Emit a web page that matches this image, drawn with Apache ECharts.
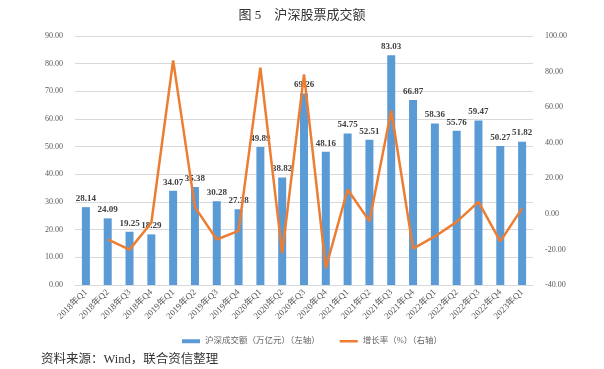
<!DOCTYPE html>
<html>
<head>
<meta charset="utf-8">
<script src="https://cdn.jsdelivr.net/npm/echarts@6/dist/echarts.min.js"></script>
<style>
  html, body { margin: 0; padding: 0; background: #fff; }
  #chart { width: 604px; height: 369px; }
</style>
</head>
<body>
<div id="chart"></div>
<script>
// 季度
const quarters = [
  '2018年Q1', '2018年Q2', '2018年Q3', '2018年Q4',
  '2019年Q1', '2019年Q2', '2019年Q3', '2019年Q4',
  '2020年Q1', '2020年Q2', '2020年Q3', '2020年Q4',
  '2021年Q1', '2021年Q2', '2021年Q3', '2021年Q4',
  '2022年Q1', '2022年Q2', '2022年Q3', '2022年Q4',
  '2023年Q1'
];
// 沪深成交额（万亿元）
const turnover = [
  28.14, 24.09, 19.25, 18.29, 34.07, 35.38, 30.28, 27.38,
  49.89, 38.82, 69.26, 48.16, 54.75, 52.51, 83.03, 66.87,
  58.36, 55.76, 59.47, 50.27, 51.82
];
// 增长率（%）
const growth = [
  null, -14.4, -20.1, -5.0, 86.3, 3.8, -14.4, -9.6,
  82.2, -22.2, 78.4, -30.5, 13.7, -4.1, 58.1, -19.5,
  -12.7, -4.5, 6.7, -15.5, 3.1
];

const serif = '"Liberation Serif", "Noto Sans CJK SC", serif';
const chart = echarts.init(document.getElementById('chart'));

const option = {
  animation: false,
  backgroundColor: '#fff',
  title: {
    text: '图 5　沪深股票成交额',
    left: 'center',
    top: 4,
    textStyle: { fontFamily: serif, fontSize: 13, fontWeight: 'normal', color: '#333' }
  },
  graphic: [{
    type: 'text',
    left: 41,
    top: 353,
    style: { text: '资料来源：Wind，联合资信整理', font: '12.5px ' + serif, fill: '#333' }
  }],
  legend: {
    top: 332,
    left: 177,
    itemGap: 20,
    itemWidth: 18,
    textStyle: { fontFamily: serif, fontSize: 8.5, color: '#666' },
    data: [
      { name: '沪深成交额（万亿元）（左轴）', icon: 'path://M0,0 L18,0 L18,4 L0,4 Z' },
      { name: '增长率（%）（右轴）', icon: 'path://M0,0 L18,0 L18,2.5 L0,2.5 Z' }
    ]
  },
  grid: { left: 75, right: 71, top: 36, bottom: 84 },
  xAxis: {
    type: 'category',
    data: quarters,
    axisTick: { show: false },
    axisLine: { lineStyle: { color: '#d9d9d9' } },
    axisLabel: { rotate: 45, fontFamily: serif, fontSize: 9, color: '#595959', interval: 0, margin: 6 }
  },
  yAxis: [
    {
      type: 'value', min: 0, max: 90, interval: 10,
      axisLabel: { formatter: v => v.toFixed(2), fontFamily: serif, fontSize: 8, color: '#595959', margin: 12 },
      splitLine: { lineStyle: { color: '#d9d9d9' } },
      axisLine: { show: false }, axisTick: { show: false }
    },
    {
      type: 'value', min: -40, max: 100, interval: 20,
      axisLabel: { formatter: v => v.toFixed(2), fontFamily: serif, fontSize: 8, color: '#595959', margin: 12 },
      splitLine: { show: false },
      axisLine: { show: false }, axisTick: { show: false }
    }
  ],
  series: [
    {
      name: '沪深成交额（万亿元）（左轴）',
      type: 'bar',
      data: turnover,
      barWidth: 8,
      itemStyle: { color: '#5B9BD5' },
      label: {
        show: true, position: 'top', distance: 4,
        formatter: p => p.value.toFixed(2),
        fontFamily: serif, fontSize: 9, fontWeight: 'bold', color: '#404040'
      }
    },
    {
      name: '增长率（%）（右轴）',
      type: 'line',
      yAxisIndex: 1,
      data: growth,
      symbol: 'none',
      itemStyle: { color: '#ED7D31' },
      lineStyle: { color: '#ED7D31', width: 2.5 }
    }
  ]
};

chart.setOption(option);
</script>
</body>
</html>
